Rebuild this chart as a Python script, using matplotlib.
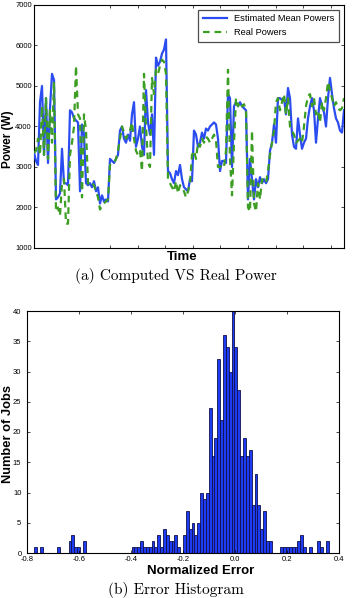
import numpy as np
import matplotlib
matplotlib.use("Agg")
import matplotlib.pyplot as plt

plt.rcParams['font.family'] = ['Liberation Sans', 'DejaVu Sans']
plt.rcParams['axes.unicode_minus'] = False

# ---------- data ----------
est_power = [
    3350, 3150, 3050, 4600, 5000, 3300, 4700, 3100, 4450, 5300,
    5150, 2200, 2250, 2350, 3450, 2600, 2600, 2550, 4400, 4350,
    4200, 4150, 4100, 2400, 4050, 3800, 2600, 2550, 2600, 2500,
    2650, 2400, 2500, 2100, 2300, 2150, 2200, 2150, 3200, 3150,
    3100, 3200, 3300, 3900, 4000, 3700, 3600, 3800, 3650, 4300,
    4600, 3500, 3700, 4000, 3500, 3300, 4900, 4100, 3800, 4300,
    3300, 5700, 5500, 5600, 5800, 5900, 6150, 2900, 2850, 2700,
    2600, 2900, 2800, 3050, 2700, 2500, 2450, 2400, 2700, 2650,
    3900, 3800, 3500, 3600, 3850, 3700, 3950, 3900, 4000, 4050,
    4100, 4050, 3700, 2900, 3150, 3150, 3100, 4800, 4700, 3000,
    4500, 4600, 4500, 4600, 4500, 4450, 4400, 2200, 3200, 2700,
    2200, 2700, 2500, 2750, 2600, 2700, 2600, 2700, 3400, 3600,
    4050, 3600, 4700, 4700, 4650, 4700, 4300, 4950, 4700, 3800,
    3500, 3450, 4200, 3800, 3450, 3600, 3700, 4200, 4500, 4700,
    4400, 3600, 4200, 4700, 4500, 4350, 4000, 4700, 5200, 4800,
    4450, 4200, 4100, 3900, 3850, 4400,
]
real_power = [
    3350, 3400, 3700, 3300, 4500, 3300, 4700, 3200, 4400, 3600,
    5100, 1900, 2000, 1800, 2600, 2700, 1600, 1600, 3300, 3600,
    4000, 5500, 4300, 4200, 2250, 4300, 3900, 2600, 2550, 2600,
    2550, 2400, 2250, 1950, 2050, 2100, 2150, 2200, 3050, 3100,
    3100, 3200, 3400, 3700, 4000, 3850, 3700, 3800, 3900, 4100,
    3700, 3400, 3300, 3400, 2900, 5300, 4000, 3100, 3000, 5200,
    4800, 5400, 5300, 5500, 5650, 5600, 5300, 2700, 2600, 2500,
    2400, 2650, 2350, 2550, 2500, 2400, 2250, 2400, 2600, 3300,
    3400, 3200, 3600, 3500, 3700, 3600, 3750, 3700, 3600, 3700,
    3800, 3650, 3000, 3000, 3050, 3000, 3400, 5400, 3200, 2300,
    3600, 4700, 4500, 4600, 4500, 4550, 4400, 2000, 1900, 3900,
    2100, 1900, 2600, 2200, 2700, 2650, 2600, 2900, 3300, 3600,
    3900, 4600, 4700, 4400, 4600, 4800, 4300, 4700, 4000, 3900,
    3800, 3600, 3650, 3700, 3600, 4000, 4500, 4750, 4800, 4500,
    4700, 4300, 4400, 4100, 4600, 4400, 4700, 5100, 4900, 4700,
    4500, 4600, 4450, 4400, 4450, 4700,
]

# histogram of normalized error: counts per bin, bins spanning err_lo..err_hi
err_lo, err_hi = -0.772, 0.361
error_counts = [
    1, 0, 1, 0, 0, 0, 0, 0, 1, 0,
    0, 0, 2, 3, 1, 1, 0, 2, 0, 0,
    0, 0, 0, 0, 0, 0, 0, 0, 0, 0,
    0, 0, 0, 0, 1, 1, 1, 2, 1, 1,
    1, 2, 1, 3, 1, 4, 3, 2, 2, 3,
    1, 0, 3, 7, 4, 5, 3, 5, 10, 9,
    10, 24, 16, 19, 32, 22, 36, 34, 30, 40,
    34, 27, 16, 19, 16, 17, 8, 13, 8, 4,
    7, 2, 2, 0, 0, 0, 1, 1, 1, 1,
    1, 1, 2, 3, 1, 0, 1, 0, 0, 2,
    1, 0, 2,
]

W, H = 353, 598
fig = plt.figure(figsize=(W / 100, H / 100), dpi=100)

def box(l, t, r, b):
    # pixel box -> figure fraction
    return [l / W, 1 - b / H, (r - l) / W, (b - t) / H]

# ---------- (a) power over time ----------
ax1 = fig.add_axes(box(34, 5, 344, 248))
t = np.arange(len(est_power))
ax1.plot(t, est_power, color='#2b4cf0', lw=1.6, label='Estimated Mean Powers', zorder=3)
ax1.plot(t, real_power, color='#3c9e22', lw=1.6, ls=(0, (3, 2.2)), label='Real Powers', zorder=4)
ax1.set_xlim(0, len(t) - 1)
ax1.set_ylim(1000, 7000)
ax1.set_yticks(np.arange(1000, 7001, 1000))
ax1.set_xticks(np.arange(38, len(t), 13.8))
ax1.set_xticklabels([])
ax1.tick_params(direction='in', top=True, right=True, labelsize=5.5,
                length=2, width=0.5, pad=1.5)
for s in ax1.spines.values():
    s.set_linewidth(0.8)
leg = ax1.legend(loc='upper right', fontsize=6.7, fancybox=False,
                 edgecolor='#222222', borderaxespad=0.5, handlelength=2.6,
                 labelspacing=0.5, borderpad=0.5)
leg.get_frame().set_linewidth(0.9)

fig.text(8 / W, 1 - 139 / H, 'Power (W)', rotation=90, ha='center', va='center',
         fontsize=8.5, fontweight='bold')
fig.text(182 / W, 1 - 257 / H, 'Time', ha='center', va='center',
         fontsize=9.5, fontweight='bold')
fig.text(176 / W, 1 - 276 / H, '(a) Computed VS Real Power', ha='center', va='center',
         fontsize=11, family='cmr10')

# ---------- (b) error histogram ----------
ax2 = fig.add_axes(box(27, 311, 339, 553))
edges = np.linspace(err_lo, err_hi, len(error_counts) + 1)
ax2.hist(edges[:-1], bins=edges, weights=error_counts,
         facecolor='#1f3cf5', edgecolor='#10104a', linewidth=0.6)
ax2.set_xlim(-0.8, 0.4)
ax2.set_ylim(0, 40)
ax2.set_xticks(np.arange(-0.8, 0.41, 0.2))
ax2.set_xticklabels(['-0.8', '-0.6', '-0.4', '-0.2', '0.0', '0.2', '0.4'])
ax2.set_yticks(np.arange(0, 41, 5))
ax2.tick_params(direction='in', top=True, right=True, labelsize=5.5,
                length=2, width=0.5, pad=2)
ax2.tick_params(axis='y', pad=4)
for s in ax2.spines.values():
    s.set_linewidth(0.8)

fig.text(8 / W, 1 - 434 / H, 'Number of Jobs', rotation=90, ha='center', va='center',
         fontsize=9.3, fontweight='bold')
fig.text(201 / W, 1 - 571 / H, 'Normalized Error', ha='center', va='center',
         fontsize=9.5, fontweight='bold')
fig.text(176 / W, 1 - 590 / H, '(b) Error Histogram', ha='center', va='center',
         fontsize=11, family='cmr10')

fig.savefig('out.png', dpi=100)
